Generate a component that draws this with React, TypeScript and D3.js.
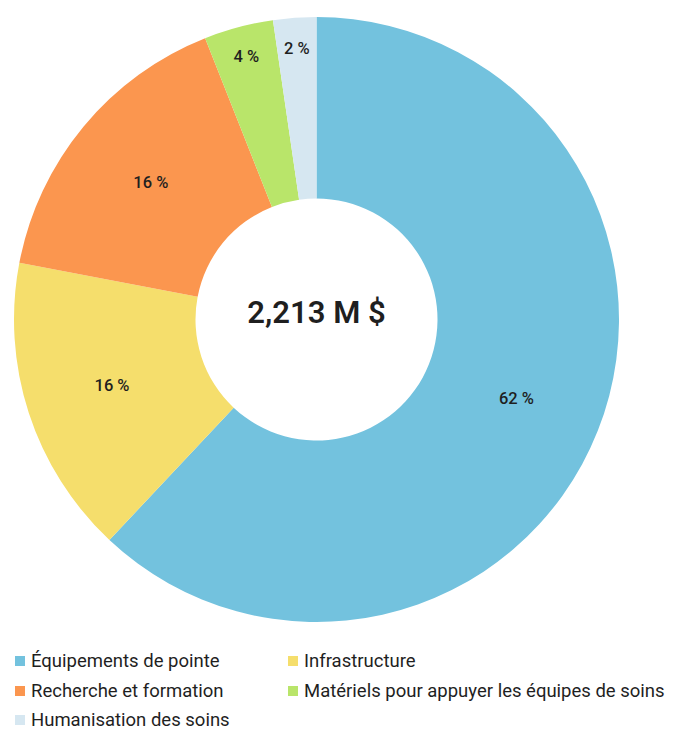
import React from "react";
import * as d3 from "d3";

const categories = [
  "Équipements de pointe",
  "Infrastructure",
  "Recherche et formation",
  "Matériels pour appuyer les équipes de soins",
  "Humanisation des soins",
];
const values = [62, 16, 16, 3.7, 2.3];
const sliceLabels = ["62 %", "16 %", "16 %", "4 %", "2 %"];
const colors = ["#73C2DE", "#F5DE6C", "#FB964F", "#B9E56A", "#D6E7F1"];
const centerLabel = "2,213 M $";
const legendOrder = [0, 1, 2, 3, 4];

const W = 677;
const H = 742;
const cx = 316.5;
const cy = 319.5;
const R = 302.5;
const r0 = 121;

export default function App() {
  const pie = d3.pie<number>().sort(null).value((d) => d)(values);
  const arc = d3.arc<d3.PieArcDatum<number>>().innerRadius(r0).outerRadius(R);
  const font = "Roboto, 'Noto Sans', sans-serif";

  const legendX = [15, 288];
  const legendY = [661, 691, 720];

  return (
    <svg
      width={W}
      height={H}
      style={{ position: "absolute", left: 0, top: 0, background: "#fff" }}
      fontFamily={font}
    >
      <g transform={`translate(${cx},${cy})`}>
        {pie.map((p, i) => (
          <path key={i} d={arc(p) || ""} fill={colors[i]} />
        ))}
        {pie.map((p, i) => {
          const mid = (p.startAngle + p.endAngle) / 2;
          const rr = values[i] < 5 ? 272 : 215;
          const x = rr * Math.sin(mid);
          const y = -rr * Math.cos(mid);
          return (
            <text
              key={i}
              x={x}
              y={y}
              textAnchor="middle"
              dominantBaseline="central"
              fontSize={16.5}
              fontWeight={500}
              fill="#1f1f1f"
            >
              {sliceLabels[i]}
            </text>
          );
        })}
        <text
          x={0}
          y={-7}
          textAnchor="middle"
          dominantBaseline="central"
          fontSize={31}
          fontWeight={600}
          fill="#1f1f1f"
        >
          {centerLabel}
        </text>
      </g>
      {legendOrder.map((ci, k) => {
        const col = k % 2;
        const row = Math.floor(k / 2);
        const x = legendX[col];
        const y = legendY[row];
        return (
          <g key={ci}>
            <rect x={x} y={y - 5} width={10} height={10} fill={colors[ci]} />
            <text
              x={x + 16}
              y={y}
              dominantBaseline="central"
              fontSize={18.5}
              fill="#1f1f1f"
            >
              {categories[ci]}
            </text>
          </g>
        );
      })}
    </svg>
  );
}
